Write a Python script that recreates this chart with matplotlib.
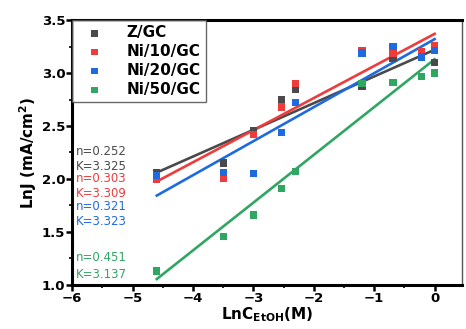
import matplotlib.pyplot as plt
import numpy as np

# ln of ethanol concentration
x = [-4.6, -3.5, -3.0, -2.53, -2.3, -1.2, -0.69, -0.22, 0.0]

labels = ['Z/GC', 'Ni/10/GC', 'Ni/20/GC', 'Ni/50/GC']
z_gc = [2.06, 2.15, 2.46, 2.75, 2.85, 2.87, 3.14, 3.17, 3.10]
ni10 = [2.00, 2.01, 2.42, 2.68, 2.90, 3.21, 3.19, 3.20, 3.26]
ni20 = [2.03, 2.06, 2.05, 2.44, 2.72, 3.19, 3.25, 3.15, 3.21]
ni50 = [1.13, 1.46, 1.66, 1.91, 2.07, 2.90, 2.91, 2.97, 3.00]

# fitted lines (slope, intercept as drawn)
slopes = [0.252, 0.303, 0.321, 0.451]
intercepts = [3.22, 3.37, 3.32, 3.13]
fit_x = [-4.6, 0.0]

notes = [('n=0.252', 'K=3.325'), ('n=0.303', 'K=3.309'),
         ('n=0.321', 'K=3.323'), ('n=0.451', 'K=3.137')]

colors = ['#4a4a4a', '#EE3B3B', '#1E6BE0', '#30A663']

fig = plt.figure(figsize=(4.66, 3.29), dpi=100)
ax = fig.add_axes([0.155, 0.134, 0.836, 0.805])

series = [z_gc, ni10, ni20, ni50]
for ys, lab, col in zip(series, labels, colors):
    ax.scatter(x, ys, marker='s', s=28, color=col, label=lab, zorder=3, edgecolors='none')

for m, b, col in zip(slopes, intercepts, colors):
    fx = np.array(fit_x)
    ax.plot(fx, b + m * fx, color=col, lw=1.9, zorder=2)

ax.set_xlim(-6, 0.45)
ax.set_ylim(1.0, 3.5)
ax.set_xticks([-6, -5, -4, -3, -2, -1, 0])
ax.set_yticks([1.0, 1.5, 2.0, 2.5, 3.0, 3.5])
ax.set_xticks(np.arange(-5.5, 0.5, 1.0), minor=True)
ax.set_yticks(np.arange(1.25, 3.5, 0.5), minor=True)
ax.tick_params(which='major', direction='out', length=4, width=1.8, labelsize=9.5, pad=1)
ax.tick_params(which='minor', direction='out', length=2.5, width=1.2)
for t in ax.get_xticklabels() + ax.get_yticklabels():
    t.set_fontweight('bold')
for side in ['left', 'bottom', 'top']:
    ax.spines[side].set_linewidth(2.2)
ax.spines['right'].set_linewidth(1.0)
ax.spines['right'].set_color('#555555')

ax.set_xlabel('LnC$_{\\mathbf{EtOH}}$(M)', fontsize=11, fontweight='bold', labelpad=0)
ax.set_ylabel('LnJ (mA/cm$^{\\mathbf{2}}$)', fontsize=11, fontweight='bold', labelpad=2)

leg = ax.legend(loc='upper left', prop={'weight': 'bold', 'size': 11}, frameon=True,
                fancybox=False, borderaxespad=0, handletextpad=1.0, labelspacing=0.25,
                borderpad=0.35, markerscale=0.85, handlelength=2.2)
leg.get_frame().set_edgecolor('#444444')
leg.get_frame().set_linewidth(1.0)

ypos = [(2.255, 2.115), (2.005, 1.865), (1.74, 1.60), (1.255, 1.10)]
for (n, k), (y1, y2), col in zip(notes, ypos, colors):
    ax.text(-5.945, y1, n, color=col, fontsize=8.5, va='center')
    ax.text(-5.945, y2, k, color=col, fontsize=8.5, va='center')

fig.savefig('out.png', dpi=100)
